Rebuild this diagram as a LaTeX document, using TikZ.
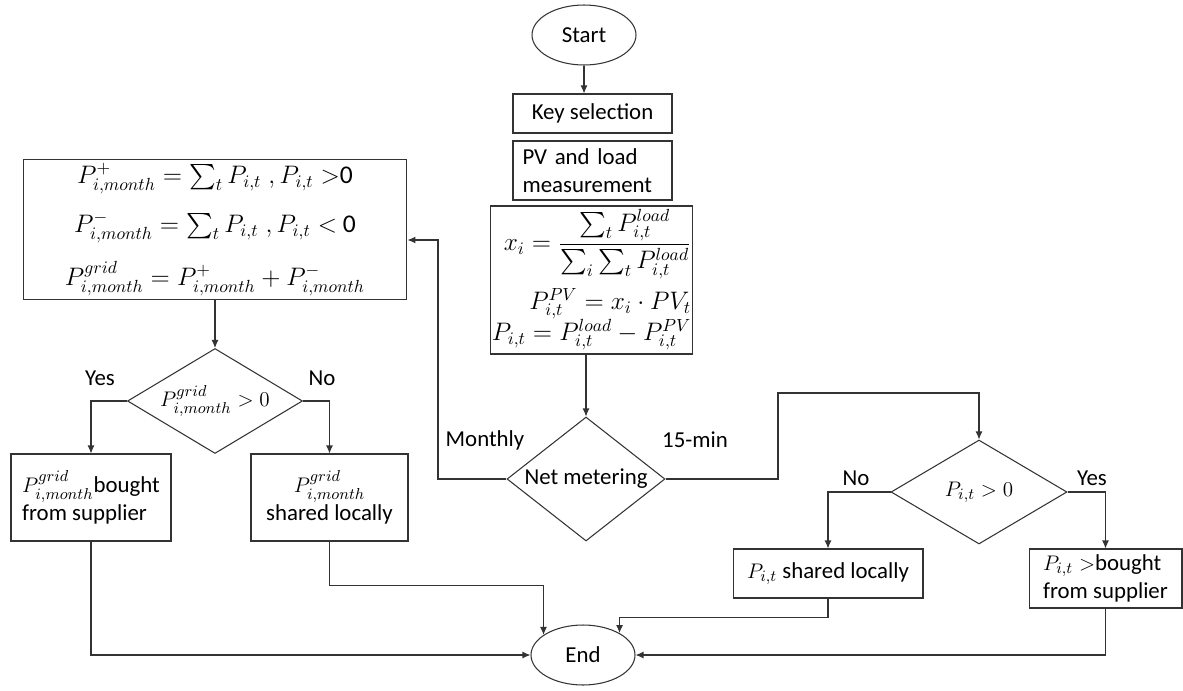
\documentclass[tikz,border=0pt]{standalone}
\usepackage{amsmath}
\usepackage{fontspec}
\setmainfont{Carlito}
\usetikzlibrary{shapes.geometric,arrows.meta}
\tikzset{
	box/.style={draw=black!80, rectangle, inner sep=2pt},
	oval/.style={draw=black!80, ellipse, minimum width=2.08cm, minimum height=1.2cm, inner sep=0pt},
	decision/.style={draw=black!80, diamond, inner sep=0pt},
	flow/.style={draw=black!80, -{Latex[length=1.6mm,width=1.4mm]}},
	lbl/.style={inner sep=0pt},
	bigeq/.style={node font=\fontsize{14.5}{18}\selectfont}
}

\begin{document}
\begin{tikzpicture}[x=0.02cm, y=-0.02cm, line width=0.6pt, node font=\fontsize{13}{16}\selectfont]
			\useasboundingbox (0,0) rectangle (1183,690);
			% middle column
			\node[oval] (start) at (584,35) {Start};
			\node[box, minimum width=3.18cm, minimum height=0.78cm] (key) at (592.5,113.5) {Key selection};
			\node[box, minimum width=3.18cm, minimum height=1.18cm, align=left, text width=2.8cm] (meas) at (592.5,170.5) {PV and load\\measurement};
			\node[box, bigeq, node font=\fontsize{14}{17}\selectfont, inner sep=1pt, minimum width=3.98cm, minimum height=2.96cm, align=right] (alloc) at (591.5,280) {$x_i=\dfrac{\sum_t P^{load}_{i,t}}{\sum_i\sum_t P^{load}_{i,t}}$\\[4pt] $P^{PV}_{i,t}=x_i\cdot PV_t$\\[-1pt] $P_{i,t}=P^{load}_{i,t}-P^{PV}_{i,t}$};
			\node[decision, minimum width=3.16cm, minimum height=2.48cm, shape aspect=1.27] (net) at (586,479) {Net metering};
			\node[oval] (stop) at (583,655) {End};
			% monthly branch
			\node[box, bigeq, minimum width=7.68cm, minimum height=2.78cm, align=center] (month) at (215,229.5) {$P^{+}_{i,month}=\sum_t P_{i,t}\;,P_{i,t}>$0\\[10pt] $P^{-}_{i,month}=\sum_t P_{i,t}\;,P_{i,t}<$ 0\\[9pt] $P^{grid}_{i,month}=P^{+}_{i,month}+P^{-}_{i,month}$};
			\node[decision, minimum width=3.5cm, minimum height=2.1cm, shape aspect=1.67] (grid) at (215,401) {$P^{grid}_{i,month}>0$};
			\node[box, minimum width=3.2cm, minimum height=1.74cm, align=left] (lbuy) at (91,497.5) {$P^{grid}_{i,month}$bought\\from supplier};
			\node[box, minimum width=3.14cm, minimum height=1.74cm, align=center] (lshare) at (329.5,497.5) {$P^{grid}_{i,month}$\\shared locally};
			% 15-min branch
			\node[decision, minimum width=3.52cm, minimum height=2.08cm, shape aspect=1.69] (pos) at (979,492) {$P_{i,t}>0$};
			\node[box, minimum width=3.8cm, minimum height=0.98cm] (rshare) at (828,573.5) {$P_{i,t}$ shared locally};
			\node[box, minimum width=3.06cm, minimum height=1.18cm, align=left] (rbuy) at (1105.5,578.5) {$P_{i,t}>$bought\\from supplier};
			% labels
			\node[lbl] (lmon) at (485,440) {Monthly};
			\node[lbl] (lquart) at (695,440) {15-min};
			\node[lbl] (lyesa) at (100,378) {Yes};
			\node[lbl] (lnoa) at (322,378) {No};
			\node[lbl] (lnob) at (856,478) {No};
			\node[lbl] (lyesb) at (1092,478) {Yes};
			\coordinate (mon) at (438,240);
			\coordinate (quart) at (778,393);
			% connectors
			\draw[flow] (start.south) -- (start.south |- key.north);
			\draw[flow] (net.north |- alloc.south) -- (net.north);
			\draw[flow] (net.west) -| (mon) -- (mon -| month.east);
			\draw[flow] (net.east) -| (quart) -| (pos.north);
			\draw[flow] (month.south) -- (grid.north);
			\draw[flow] (grid.west) -| (lbuy.north);
			\draw[flow] (grid.east) -| (lshare.north);
			\draw[flow] (pos.west) -| (rshare.north);
			\draw[flow] (pos.east) -| (rbuy.north);
			\draw[flow] (lbuy.south) |- (stop.west);
			\draw[flow] (lshare.south) -- ++(0,44) -| (stop.153);
			\draw[flow] (rshare.south) -- ++(0,19) -| (stop.31);
			\draw[flow] (rbuy.south) |- (stop.east);
		\end{tikzpicture}
\end{document}
